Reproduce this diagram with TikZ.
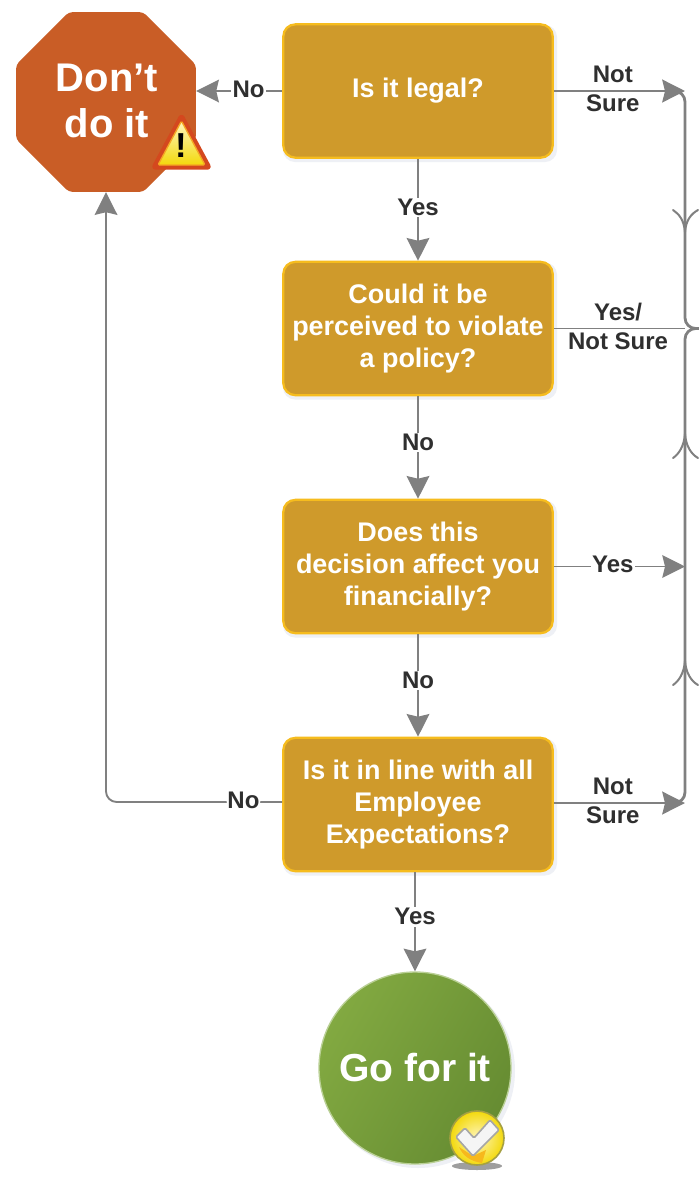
\documentclass[tikz,border=0pt]{standalone}
\usepackage{fontspec}
\setmainfont{Liberation Sans}
\usetikzlibrary{arrows.meta,shapes.geometric,calc}
\definecolor{boxfill}{HTML}{CF9A2B}
\definecolor{boxedge}{HTML}{F6BC1E}
\definecolor{stopred}{HTML}{C95D26}
\definecolor{wire}{HTML}{808080}
\definecolor{ink}{HTML}{2F2F2F}
\definecolor{softglow}{HTML}{EEF0F5}
\definecolor{goA}{HTML}{82A941}
\definecolor{goB}{HTML}{668C32}
\definecolor{warnedge}{HTML}{D4481E}
\definecolor{warnmid}{HTML}{F5A623}
\definecolor{warntop}{HTML}{FFF6BE}
\definecolor{warnlow}{HTML}{F3D90C}
\tikzset{
  qbox/.style={draw=boxedge,fill=boxfill,line width=1.7pt,rounded corners=9pt,minimum width=202pt,minimum height=100pt,
    align=center,text=white,inner sep=0pt,font=\bfseries\fontsize{20.2}{24}\selectfont},
  lab/.style={font=\bfseries\fontsize{18}{21.5}\selectfont,text=ink,align=center,inner sep=1pt},
  flab/.style={lab,fill=white,yshift=1.5pt},
  thin wire/.style={draw=wire,line width=1.4pt},
  thick wire/.style={draw=wire,line width=2.1pt},
  arr/.style={-{Stealth[length=17pt,width=17pt,inset=2pt]}},
  barb/.style={draw=wire,line width=1.5pt,line cap=round},
}
\begin{document}
\begin{tikzpicture}[x=0.75pt,y=-0.75pt]
\useasboundingbox (0,0) rectangle (699,1179);
\fill[white] (0,0) rectangle (699,1179);
% soft shadows
\foreach \yy in {91,328.5,566.5,804.5}{
  \fill[softglow,rounded corners=9pt] (283,\yy-66) rectangle (557,\yy+71);
}
\fill[softglow] (418,1071) circle[radius=97];
% question boxes
\node[qbox] (legal) at (418,91) {Is it legal?};
\node[qbox] (policy) at (418,328.5) {Could it be\\perceived to violate\\a policy?};
\node[qbox] (money) at (418,566.5) {Does this\\decision affect you\\financially?};
\node[qbox] (expect) at (418,804.5) {Is it in line with all\\Employee\\Expectations?};
% outcomes
\node[regular polygon,regular polygon sides=8,minimum size=146pt,inner sep=0pt,fill=stopred,rounded corners=3pt,
  text=white,align=center,font=\bfseries\fontsize{30}{35}\selectfont,text depth=0pt] (dont) at (106,102) {\raisebox{2pt}{\hspace{1.5pt}Don’t}\\\raisebox{2pt}{\hspace{1.5pt}do it}};
\node[circle,minimum size=144pt,inner sep=0pt,draw=goA!55,line width=1pt,
  left color=goA,right color=goB,shading angle=60,
  text=white,font=\bfseries\fontsize{29.3}{34}\selectfont] (go) at (415,1068) {Go for it};
% free ends on the right bus
\coordinate (busTop) at (685,91);
\coordinate (busTopIn) at (670,91);
\coordinate (busMid) at (685,328.5);
\coordinate (busExit) at (699,328.5);
\coordinate (busYes) at (685,566.5);
\coordinate (busLow) at (685,803);
\coordinate (busLowIn) at (670,803);
% bus
\draw[thick wire,rounded corners=8pt] (busTopIn) -- (busTop) -- (busMid) -- (busExit);
\draw[thick wire,rounded corners=8pt] (busLowIn) -- (busLow) -- (busMid) -- (busExit);
\draw[barb] (673,210) .. controls (679,214) and (684,220) .. (685,232) .. controls (686,220) and (691,214) .. (698,210);
\draw[barb] (673,458) .. controls (679,454) and (684,446) .. (685,434) .. controls (686,446) and (691,454) .. (698,458);
\draw[barb] (673,685) .. controls (679,681) and (684,673) .. (685,661) .. controls (686,673) and (691,681) .. (698,685);
% connectors
\draw[thin wire,arr] (legal.south) -- node[flab,pos=.5]{Yes} (policy.north);
\draw[thin wire,arr] (policy.south) -- node[flab,pos=.47]{No} (money.north);
\draw[thin wire,arr] (money.south) -- node[flab,pos=.47]{No} (expect.north);
\draw[thin wire,arr] (expect.south -| go.north) -- node[flab,pos=.47]{Yes} (go.north);
\draw[thin wire,arr] (legal.west) -- node[flab,pos=.39]{No} (legal.west -| dont.east);
\draw[thin wire,arr,rounded corners=8pt] ($(expect.west)+(0,-2.5)$) -- node[flab,pos=.22]{No} (dont.south |- {$(expect.west)+(0,-2.5)$}) -- (dont.south);
\draw[thick wire,arr] (legal.east) -- node[lab,pos=.45,yshift=1.5pt]{Not\\Sure} (busTop);
\draw[thin wire] (policy.east) -- node[lab,pos=.49,yshift=1.5pt]{Yes/\\Not Sure} (busMid);
\draw[thin wire,arr] (money.east) -- node[flab,pos=.45]{Yes} (busYes);
\draw[thick wire,arr] (expect.east |- busLow) -- node[lab,pos=.45,yshift=1.5pt]{Not\\Sure} (busLow);
% warning badge
\draw[draw=warnedge,fill=warnedge,line width=2.6pt,line join=round,rounded corners=2pt]
  (181.5,115) -- (210,168) -- (153,168) -- cycle;
\draw[draw=warnmid,line width=1pt,line join=round,top color=warntop,bottom color=warnlow,rounded corners=1pt]
  (181.5,121) -- (205,165) -- (158,165) -- cycle;
\node[inner sep=0pt,font=\bfseries\fontsize{26}{26}\selectfont,text=black] (bang) at (181.5,146) {!};
% check badge
\fill[black!38] (477,1166) ellipse[x radius=25,y radius=4];
\draw[draw=yellow!60!black,line width=1.2pt,inner color=warntop,outer color=warnlow] (477,1138) circle[radius=27];
\fill[warnmid!80!yellow] (459,1147) .. controls (463,1156) and (470,1161) .. (482,1163) -- (486,1150) -- (473,1156) -- cycle;
\draw[draw=black!35,fill=white!96!black,line width=1.2pt,line join=round,rounded corners=1pt]
  (456,1137) -- (465,1128) -- (474,1138) -- (490,1120) -- (499,1130) -- (473,1156) -- cycle;
\end{tikzpicture}
\end{document}
